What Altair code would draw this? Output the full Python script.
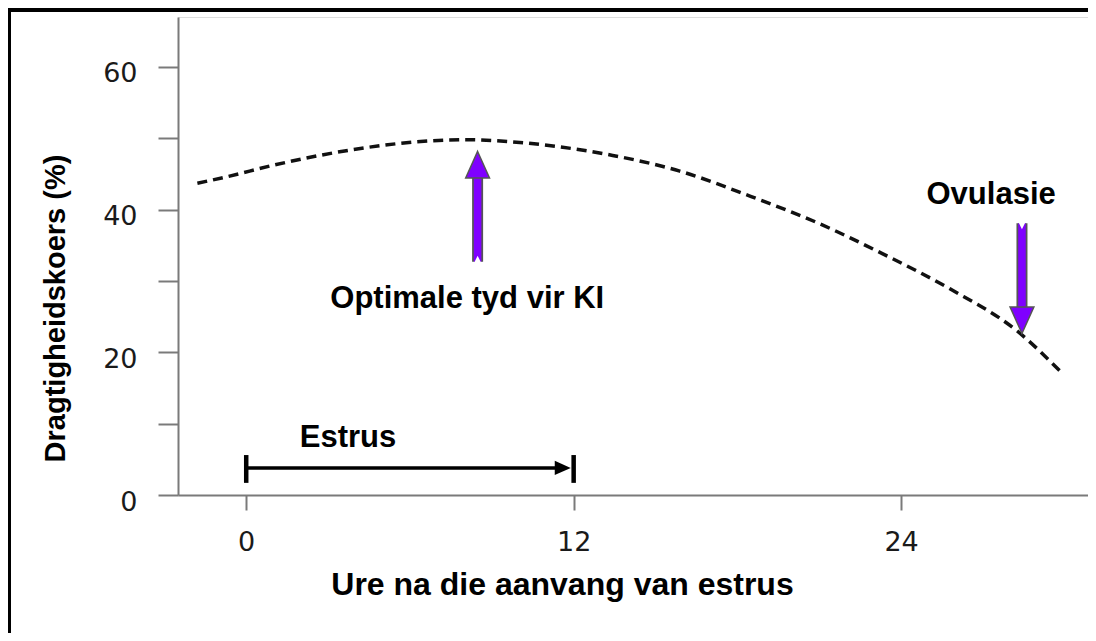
import altair as alt
import pandas as pd

# ---- data ----
curve_hours = [-1.79, -0.72, 0.97, 2.69, 4.41, 6.24, 8.07, 9.76, 11.49, 13.43,
               15.89, 18.46, 20.91, 23.33, 25.79, 28.25, 29.82]
curve_rate = [43.7, 44.6, 46.2, 47.6, 48.7, 49.5, 49.8, 49.5, 48.8, 47.6,
              45.4, 41.9, 38.2, 33.8, 28.9, 23.0, 17.4]

# purple arrows: x position, tail value, head-centre value
arrow_names = ["Optimale tyd vir KI", "Ovulasie"]
arrow_x = [8.48, 28.43]
arrow_tail = [32.7, 38.1]
arrow_head = [46.3, 24.5]

# estrus bracket
estrus_start = 0
estrus_end = 12
estrus_head = 11.6
bracket_level = 3.8
bracket_low = 1.7
bracket_high = 5.6

# annotation texts
label_text = ["Optimale tyd vir KI", "Ovulasie", "Estrus"]
label_x = [8.1, 27.3, 3.73]
label_y = [26.2, 40.8, 6.7]

y_ticks = [0, 10, 20, 30, 40, 50, 60]
x_ticks = [0, 12, 24]

# ---- tables ----
curve_df = pd.DataFrame({"hours": curve_hours, "rate": curve_rate})
up_df = pd.DataFrame({"hours": [arrow_x[0]], "tail": [arrow_tail[0]], "head": [arrow_head[0]]})
down_df = pd.DataFrame({"hours": [arrow_x[1]], "tail": [arrow_tail[1]], "head": [arrow_head[1]]})
bracket_df = pd.DataFrame({"start": [estrus_start], "end": [estrus_head], "level": [bracket_level]})
bars_df = pd.DataFrame({"hours": [estrus_start, estrus_end],
                        "low": [bracket_low] * 2, "high": [bracket_high] * 2})
bhead_df = pd.DataFrame({"hours": [estrus_head], "level": [bracket_level]})
text_df = pd.DataFrame({"label": label_text, "hours": label_x, "rate": label_y})

FONT = "Liberation Sans"
PURPLE = "#7f00ff"
OUTLINE = "#555555"

xs = alt.Scale(domain=[-2.5, 30.85], nice=False, zero=False)
ys = alt.Scale(domain=[0, 67], nice=False)

xax = alt.Axis(
    values=x_ticks, title="Ure na die aanvang van estrus", grid=False,
    domainColor="#7a7a7a", domainWidth=2, tickColor="#7a7a7a", tickWidth=2, tickSize=15,
    labelFont="DejaVu Sans", labelFontSize=27, labelColor="#1a1a1a", labelPadding=19,
    titleFont=FONT, titleFontSize=32, titleFontWeight="bold", titleColor="#000000",
    titleBaseline="alphabetic", titleX=384, titleY=99, titleAlign="center",
)
yax = alt.Axis(
    values=y_ticks, title="Dragtigheidskoers (%)", grid=False,
    labelExpr="datum.value % 20 == 0 ? datum.label : ''",
    domainColor="#7a7a7a", domainWidth=2, tickColor="#7a7a7a", tickWidth=2, tickSize=20,
    labelFont="DejaVu Sans", labelFontSize=27, labelColor="#1a1a1a", labelPadding=21,
    labelOffset=7,
    titleFont=FONT, titleFontSize=29, titleFontWeight="bold", titleColor="#000000",
    titleBaseline="alphabetic", titleAngle=270, titleX=-114, titleY=291, titleAlign="center",
)


def X(field):
    return alt.X(field, type="quantitative", scale=xs, axis=xax)


def Y(field):
    return alt.Y(field, type="quantitative", scale=ys, axis=yax)


# frame (top and left edges of the picture)
frame_top = alt.Chart(curve_df).mark_rule(color="#000000", strokeWidth=4).encode(
    x=alt.value(-172), x2=alt.value(940), y=alt.value(-7))
frame_left = alt.Chart(curve_df).mark_rule(color="#000000", strokeWidth=4).encode(
    x=alt.value(-169), y=alt.value(-12), y2=alt.value(660))

curve = alt.Chart(curve_df).mark_line(
    color="#111111", strokeWidth=3.5, strokeDash=[10, 6], interpolate="monotone"
).encode(x=X("hours"), y=Y("rate"))


def arrow_layers(df, head_path, notch_path):
    outline = alt.Chart(df).mark_rule(color=OUTLINE, strokeWidth=11).encode(
        x=X("hours"), y=Y("tail"), y2="head")
    fill = alt.Chart(df).mark_rule(color=PURPLE, strokeWidth=7.5).encode(
        x=X("hours"), y=Y("tail"), y2="head")
    head = alt.Chart(df).mark_point(
        shape=head_path, size=700, filled=True, fill=PURPLE, stroke=OUTLINE,
        strokeWidth=1.5, opacity=1).encode(x=X("hours"), y=Y("head"))
    notch = alt.Chart(df).mark_point(
        shape=notch_path, size=144, filled=True, fill="#ffffff", strokeWidth=0,
        opacity=1).encode(x=X("hours"), y=Y("tail"))
    return [outline, fill, head, notch]


up_layers = arrow_layers(up_df, "M0,-1L0.9,1L-0.9,1Z", "M0,-1L1,1L-1,1Z")
down_layers = arrow_layers(down_df, "M0,1L0.9,-1L-0.9,-1Z", "M0,1L1,-1L-1,-1Z")

bracket_line = alt.Chart(bracket_df).mark_rule(color="#000000", strokeWidth=3.5).encode(
    x=X("start"), x2="end", y=Y("level"))
bracket_bars = alt.Chart(bars_df).mark_rule(color="#000000", strokeWidth=4.5).encode(
    x=X("hours"), y=Y("low"), y2="high")
bracket_head = alt.Chart(bhead_df).mark_point(
    shape="M1,0L-1,-0.9L-1,0.9Z", size=256, filled=True, fill="#000000",
    strokeWidth=0, opacity=1).encode(x=X("hours"), y=Y("level"))

texts = alt.Chart(text_df).mark_text(
    font=FONT, fontSize=31, fontWeight="bold", color="#000000",
    align="center", baseline="alphabetic"
).encode(x=X("hours"), y=Y("rate"), text="label:N")

chart = alt.layer(
    frame_top, frame_left, curve, *up_layers, *down_layers,
    bracket_line, bracket_bars, bracket_head, texts
).properties(
    width=910, height=478,
    autosize=alt.AutoSizeParams(type="none"),
    padding={"left": 170, "top": 9, "right": 0, "bottom": 138},
).configure_view(stroke=None).configure(background="#ffffff")

chart.save("out.html", embed_options={"renderer": "svg", "actions": False})
